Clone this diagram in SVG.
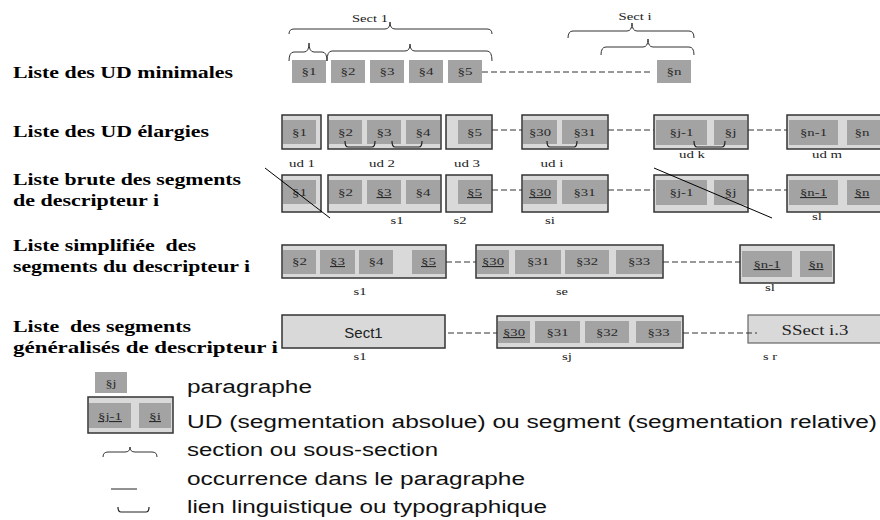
<svg xmlns="http://www.w3.org/2000/svg" width="880" height="520" viewBox="0 0 880 520">
<style>
.t{font-family:"Liberation Serif","Times New Roman",serif;font-size:16px;font-weight:bold;fill:#000;white-space:pre}
.p{font-family:"Liberation Serif","Times New Roman",serif;font-size:11px;fill:#2a2a2a;text-anchor:middle}
.u{text-decoration:underline}
.lb{font-family:"Liberation Serif","Times New Roman",serif;font-size:11px;fill:#222;text-anchor:middle}
.leg{font-family:"Liberation Sans",Arial,sans-serif;font-size:18px;fill:#111}
.dk{fill:#a3a3a3}
.lt{fill:#d9d9d9;stroke:#333;stroke-width:1.5}
.dash{stroke:#333;stroke-width:1;stroke-dasharray:6 3;fill:none}
.br{fill:none;stroke:#333;stroke-width:1}
.lk{fill:none;stroke:#222;stroke-width:1.2}
.diag{stroke:#000;stroke-width:1}
</style>

<g id="titles">
<text class="t" x="13" y="78" textLength="220" lengthAdjust="spacingAndGlyphs">Liste des UD minimales</text>
<text class="t" x="13" y="137" textLength="196" lengthAdjust="spacingAndGlyphs">Liste des UD élargies</text>
<text class="t" x="13" y="185" textLength="228" lengthAdjust="spacingAndGlyphs">Liste brute des segments</text>
<text class="t" x="13" y="206" textLength="146" lengthAdjust="spacingAndGlyphs">de descripteur i</text>
<text class="t" x="13" y="251" textLength="183" lengthAdjust="spacingAndGlyphs">Liste simplifiée  des</text>
<text class="t" x="13" y="272" textLength="237" lengthAdjust="spacingAndGlyphs">segments du descripteur i</text>
<text class="t" x="13" y="332" textLength="178" lengthAdjust="spacingAndGlyphs">Liste  des segments</text>
<text class="t" x="13" y="353" textLength="265" lengthAdjust="spacingAndGlyphs">généralisés de descripteur i</text>
</g>

<!-- Row 1 : UD minimales -->
<g id="sect1">
<path class="br" d="M289,34 Q289,29 294,29 L385,29 Q390,29 390,22 Q390,29 395,29 L487,29 Q492,29 492,34"/>
<text class="lb" x="370" y="22" textLength="36" lengthAdjust="spacingAndGlyphs">Sect 1</text>
<path class="br" d="M289,61 Q289,52 294,52 L304,52 Q309,52 309,43 Q309,52 314,52 L322,52 Q327,52 327,61"/>
<path class="br" d="M327,61 Q327,51 332,51 L405,51 Q410,51 410,44 Q410,51 415,51 L487,51 Q492,51 492,61"/>
</g>
<g id="secti">
<path class="br" d="M568,38 Q568,31 573,31 L627,31 Q632,31 632,23 Q632,31 637,31 L689,31 Q694,31 694,38"/>
<text class="lb" x="635" y="20" textLength="33" lengthAdjust="spacingAndGlyphs">Sect i</text>
<path class="br" d="M601,55 Q601,47 606,47 L643,47 Q648,47 648,39 Q648,47 653,47 L689,47 Q694,47 694,55"/>
</g>
<g id="m1"><rect class="dk" x="292" y="60" width="34" height="23"/><text class="p" x="309" y="75" textLength="15" lengthAdjust="spacingAndGlyphs">§1</text></g>
<g id="m2"><rect class="dk" x="331" y="60" width="34" height="23"/><text class="p" x="348" y="75" textLength="15" lengthAdjust="spacingAndGlyphs">§2</text></g>
<g id="m3"><rect class="dk" x="370" y="60" width="34" height="23"/><text class="p" x="387" y="75" textLength="15" lengthAdjust="spacingAndGlyphs">§3</text></g>
<g id="m4"><rect class="dk" x="409" y="60" width="34" height="23"/><text class="p" x="426" y="75" textLength="15" lengthAdjust="spacingAndGlyphs">§4</text></g>
<g id="m5"><rect class="dk" x="448" y="60" width="34" height="23"/><text class="p" x="465" y="75" textLength="15" lengthAdjust="spacingAndGlyphs">§5</text></g>
<g id="mn"><rect class="dk" x="657" y="60" width="34" height="23"/><text class="p" x="674" y="75" textLength="15" lengthAdjust="spacingAndGlyphs">§n</text></g>

<!-- Row 2 : UD elargies -->
<g id="ud1"><rect class="lt" x="282" y="115" width="39" height="34"/><rect class="dk" x="283" y="120" width="33" height="24"/><text class="p" x="299.5" y="136" textLength="15" lengthAdjust="spacingAndGlyphs">§1</text><text class="lb" x="302" y="167" textLength="26" lengthAdjust="spacingAndGlyphs">ud 1</text></g>
<g id="ud2"><rect class="lt" x="328" y="115" width="113" height="34"/><rect class="dk" x="329" y="120" width="33" height="24"/><rect class="dk" x="367" y="120" width="34" height="24"/><rect class="dk" x="406" y="120" width="34" height="24"/><text class="p" x="345.5" y="136" textLength="15" lengthAdjust="spacingAndGlyphs">§2</text><text class="p" x="384" y="136" textLength="15" lengthAdjust="spacingAndGlyphs">§3</text><text class="p" x="423" y="136" textLength="15" lengthAdjust="spacingAndGlyphs">§4</text><path class="lk" d="M345,141 Q345,147 348,147 L372,147 Q375,147 375,141"/><path class="lk" d="M392,141 Q392,147 395,147 L419,147 Q422,147 422,141"/><text class="lb" x="382" y="167" textLength="26" lengthAdjust="spacingAndGlyphs">ud 2</text></g>
<g id="ud3"><rect class="lt" x="446" y="115" width="46" height="34"/><rect class="dk" x="458" y="120" width="33" height="24"/><text class="p" x="474.5" y="136" textLength="15" lengthAdjust="spacingAndGlyphs">§5</text><text class="lb" x="467" y="167" textLength="26" lengthAdjust="spacingAndGlyphs">ud 3</text></g>
<g id="udi"><rect class="lt" x="522" y="115" width="86" height="34"/><rect class="dk" x="523" y="120" width="34" height="24"/><rect class="dk" x="562" y="120" width="45" height="24"/><text class="p" x="540" y="136" textLength="22" lengthAdjust="spacingAndGlyphs">§30</text><text class="p" x="584.5" y="136" textLength="22" lengthAdjust="spacingAndGlyphs">§31</text><path class="lk" d="M547,141 Q547,147 550,147 L574,147 Q577,147 577,141"/><text class="lb" x="552" y="167" textLength="23" lengthAdjust="spacingAndGlyphs">ud i</text></g>
<g id="udk"><rect class="lt" x="654" y="115" width="94" height="34"/><rect class="dk" x="656" y="120" width="51" height="25"/><rect class="dk" x="714" y="120" width="33" height="25"/><text class="p" x="681.5" y="136" textLength="24" lengthAdjust="spacingAndGlyphs">§j-1</text><text class="p" x="730.5" y="136" textLength="12" lengthAdjust="spacingAndGlyphs">§j</text><path class="lk" d="M694,141 Q694,147 697,147 L722,147 Q725,147 725,141"/><text class="lb" x="692" y="158" textLength="26" lengthAdjust="spacingAndGlyphs">ud k</text></g>
<g id="udm"><rect class="lt" x="787" y="115" width="100" height="34"/><rect class="dk" x="789" y="120" width="49" height="25"/><rect class="dk" x="847" y="120" width="40" height="25"/><text class="p" x="813.5" y="136" textLength="27" lengthAdjust="spacingAndGlyphs">§n-1</text><text class="p" x="862" y="136" textLength="15" lengthAdjust="spacingAndGlyphs">§n</text><text class="lb" x="827" y="158" textLength="30" lengthAdjust="spacingAndGlyphs">ud m</text></g>

<!-- Row 3 : liste brute -->
<g id="b1"><rect class="lt" x="282" y="175" width="39" height="37"/><rect class="dk" x="283" y="180" width="33" height="24"/><text class="p" x="299.5" y="196" textLength="15" lengthAdjust="spacingAndGlyphs">§1</text></g>
<g id="bs1"><rect class="lt" x="328" y="175" width="113" height="37"/><rect class="dk" x="329" y="180" width="33" height="24"/><rect class="dk" x="367" y="180" width="34" height="24"/><rect class="dk" x="406" y="180" width="34" height="24"/><text class="p" x="345.5" y="196" textLength="15" lengthAdjust="spacingAndGlyphs">§2</text><text class="p u" x="384" y="196" textLength="15" lengthAdjust="spacingAndGlyphs">§3</text><text class="p" x="423" y="196" textLength="15" lengthAdjust="spacingAndGlyphs">§4</text><text class="lb" x="397" y="224" textLength="13" lengthAdjust="spacingAndGlyphs">s1</text></g>
<g id="bs2"><rect class="lt" x="446" y="175" width="46" height="37"/><rect class="dk" x="458" y="180" width="33" height="24"/><text class="p u" x="474.5" y="196" textLength="15" lengthAdjust="spacingAndGlyphs">§5</text><text class="lb" x="460" y="224" textLength="13" lengthAdjust="spacingAndGlyphs">s2</text></g>
<g id="bsi"><rect class="lt" x="522" y="175" width="86" height="37"/><rect class="dk" x="523" y="180" width="34" height="24"/><rect class="dk" x="562" y="180" width="45" height="24"/><text class="p u" x="540" y="196" textLength="22" lengthAdjust="spacingAndGlyphs">§30</text><text class="p" x="584.5" y="196" textLength="22" lengthAdjust="spacingAndGlyphs">§31</text><text class="lb" x="550" y="224" textLength="10" lengthAdjust="spacingAndGlyphs">si</text></g>
<g id="bk"><rect class="lt" x="654" y="175" width="94" height="37"/><rect class="dk" x="656" y="180" width="51" height="25"/><rect class="dk" x="714" y="180" width="33" height="25"/><text class="p" x="681.5" y="196" textLength="24" lengthAdjust="spacingAndGlyphs">§j-1</text><text class="p" x="730.5" y="196" textLength="12" lengthAdjust="spacingAndGlyphs">§j</text></g>
<g id="bsl"><rect class="lt" x="787" y="175" width="100" height="37"/><rect class="dk" x="789" y="180" width="49" height="25"/><rect class="dk" x="847" y="180" width="40" height="25"/><text class="p u" x="813.5" y="196" textLength="27" lengthAdjust="spacingAndGlyphs">§n-1</text><text class="p u" x="862" y="196" textLength="15" lengthAdjust="spacingAndGlyphs">§n</text><text class="lb" x="817" y="220" textLength="10" lengthAdjust="spacingAndGlyphs">sl</text></g>

<!-- Row 4 : liste simplifiee -->
<g id="ss1"><rect class="lt" x="282" y="245" width="164" height="33"/><rect class="dk" x="283" y="250" width="33" height="24"/><rect class="dk" x="320" y="250" width="35" height="24"/><rect class="dk" x="359" y="250" width="34" height="24"/><rect class="dk" x="412" y="250" width="33" height="24"/><text class="p" x="299.5" y="265" textLength="15" lengthAdjust="spacingAndGlyphs">§2</text><text class="p u" x="337.5" y="265" textLength="15" lengthAdjust="spacingAndGlyphs">§3</text><text class="p" x="376" y="265" textLength="15" lengthAdjust="spacingAndGlyphs">§4</text><text class="p u" x="428.5" y="265" textLength="15" lengthAdjust="spacingAndGlyphs">§5</text><text class="lb" x="360" y="295" textLength="13" lengthAdjust="spacingAndGlyphs">s1</text></g>
<g id="sse"><rect class="lt" x="476" y="245" width="187" height="33"/><rect class="dk" x="477" y="250" width="32" height="24"/><rect class="dk" x="515" y="250" width="46" height="24"/><rect class="dk" x="565" y="250" width="44" height="24"/><rect class="dk" x="616" y="250" width="46" height="24"/><text class="p u" x="493" y="265" textLength="22" lengthAdjust="spacingAndGlyphs">§30</text><text class="p" x="538" y="265" textLength="22" lengthAdjust="spacingAndGlyphs">§31</text><text class="p" x="587" y="265" textLength="22" lengthAdjust="spacingAndGlyphs">§32</text><text class="p" x="639" y="265" textLength="22" lengthAdjust="spacingAndGlyphs">§33</text><text class="lb" x="562" y="295" textLength="12" lengthAdjust="spacingAndGlyphs">se</text></g>
<g id="ssl"><rect class="lt" x="740" y="245" width="94" height="38"/><rect class="dk" x="742" y="251" width="50" height="26"/><rect class="dk" x="800" y="251" width="32" height="26"/><text class="p u" x="767" y="268" textLength="27" lengthAdjust="spacingAndGlyphs">§n-1</text><text class="p u" x="816" y="268" textLength="15" lengthAdjust="spacingAndGlyphs">§n</text><text class="lb" x="770" y="291" textLength="10" lengthAdjust="spacingAndGlyphs">sl</text></g>

<!-- Row 5 : segments generalises -->
<g id="g1"><rect class="lt" x="282" y="315" width="163" height="33"/><text x="363.5" y="338" style="font-family:'Liberation Sans',Arial,sans-serif;font-size:15px;fill:#222;text-anchor:middle">Sect1</text><text class="lb" x="360" y="360" textLength="13" lengthAdjust="spacingAndGlyphs">s1</text></g>
<g id="gj"><rect class="lt" x="497" y="316" width="186" height="32"/><rect class="dk" x="498" y="321" width="32" height="22"/><rect class="dk" x="535" y="321" width="45" height="22"/><rect class="dk" x="585" y="321" width="44" height="22"/><rect class="dk" x="636" y="321" width="45" height="22"/><text class="p u" x="514" y="336" textLength="22" lengthAdjust="spacingAndGlyphs">§30</text><text class="p" x="557.5" y="336" textLength="22" lengthAdjust="spacingAndGlyphs">§31</text><text class="p" x="607" y="336" textLength="22" lengthAdjust="spacingAndGlyphs">§32</text><text class="p" x="658.5" y="336" textLength="22" lengthAdjust="spacingAndGlyphs">§33</text><text class="lb" x="567" y="360" textLength="10" lengthAdjust="spacingAndGlyphs">sj</text></g>
<g id="gr"><rect x="748" y="315" width="140" height="28" style="fill:#d9d9d9;stroke:#666;stroke-width:1.2"/><text x="815" y="335" textLength="67" lengthAdjust="spacingAndGlyphs" style="font-family:'Liberation Serif','Times New Roman',serif;font-size:15px;fill:#222;text-anchor:middle">SSect i.3</text><text class="lb" x="770" y="360" textLength="14" lengthAdjust="spacingAndGlyphs">s r</text></g>

<!-- connectors -->
<g id="connectors">
<line class="dash" x1="482" y1="72" x2="653" y2="72"/>
<line class="dash" x1="492" y1="130" x2="522" y2="130"/>
<line class="dash" x1="608" y1="130" x2="654" y2="130"/>
<line class="dash" x1="748" y1="130" x2="787" y2="130"/>
<line class="dash" x1="492" y1="190" x2="522" y2="190"/>
<line class="dash" x1="608" y1="190" x2="654" y2="190"/>
<line class="dash" x1="748" y1="190" x2="787" y2="190"/>
<line class="dash" x1="446" y1="262" x2="476" y2="262"/>
<line class="dash" x1="663" y1="262" x2="740" y2="262"/>
<line class="dash" x1="448" y1="333" x2="497" y2="333"/>
<line class="dash" x1="683" y1="333" x2="757" y2="333"/>
<line class="diag" x1="265" y1="168" x2="330" y2="218"/>
<line class="diag" x1="654" y1="168" x2="772" y2="218"/>
</g>

<!-- legend -->
<g id="legend">
<rect class="dk" x="95" y="372" width="32" height="21"/>
<text class="p" x="111" y="387" textLength="11" lengthAdjust="spacingAndGlyphs">§j</text>
<rect class="lt" x="88" y="397" width="85" height="36"/>
<rect class="dk" x="89" y="403" width="42" height="25"/>
<rect class="dk" x="139" y="403" width="32" height="25"/>
<text class="p u" x="110" y="420" textLength="24" lengthAdjust="spacingAndGlyphs">§j-1</text>
<text class="p u" x="155" y="420" textLength="12" lengthAdjust="spacingAndGlyphs">§i</text>
<path class="br" d="M103,457 Q103,452 108,452 L125,452 Q130,452 130,447 Q130,452 135,452 L152,452 Q157,452 157,457"/>
<line x1="111" y1="489" x2="137" y2="489" style="stroke:#222;stroke-width:1"/>
<path class="lk" d="M118,507 Q118,512 121,512 L146,512 Q149,512 149,507"/>
<text class="leg" x="187" y="393" textLength="125" lengthAdjust="spacingAndGlyphs">paragraphe</text>
<text class="leg" x="187" y="428" textLength="690" lengthAdjust="spacingAndGlyphs">UD (segmentation absolue) ou segment (segmentation relative)</text>
<text class="leg" x="187" y="456" textLength="251" lengthAdjust="spacingAndGlyphs">section ou sous-section</text>
<text class="leg" x="187" y="485" textLength="338" lengthAdjust="spacingAndGlyphs">occurrence dans le paragraphe</text>
<text class="leg" x="187" y="513" textLength="360" lengthAdjust="spacingAndGlyphs">lien linguistique ou typographique</text>
</g>
</svg>
